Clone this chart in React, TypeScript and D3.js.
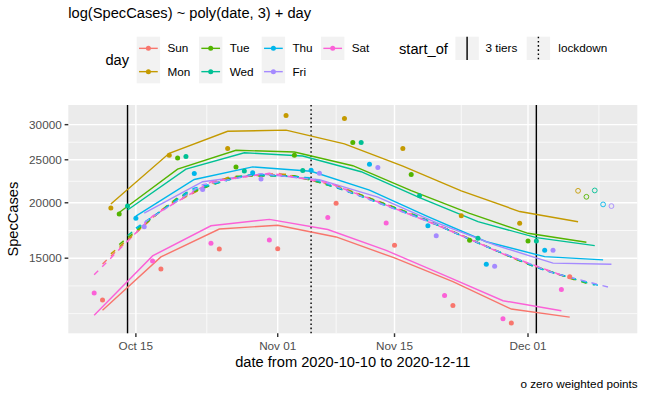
import React from 'react';
import * as d3 from 'd3';

// weekday groups, ggplot hue palette
const days = ['Sun', 'Mon', 'Tue', 'Wed', 'Thu', 'Fri', 'Sat'];
const dayColors = ['#F8766D', '#C49A00', '#53B400', '#00C094', '#00B6EB', '#A58AFF', '#FB61D7'];

const firstDate = '2020-10-10';
const zeroWeightFrom = '2020-12-07';

// observed SpecCases, one per day from 2020-10-10 to 2020-12-11
const specCases = [
  12520, 12070, 19460, 18860, 19660, 18450, 17660, 14790, 14180, 25600,
  25240, 25420, 23280, 21430, 16210, 15740, 26500, 24090, 23600, 23360,
  22640, 16490, 15760, 31480, 25600, 23650, 23690, 23320, 18540, 19940,
  30960, 27330, 27330, 24430, 24020, 18000, 16040, 26500, 23160, 20740,
  17750, 16860, 12360, 11740, 18700, 16460, 16640, 14540, 14390, 10960,
  10720, 17980, 16400, 16400, 15630, 15630, 12750, 13620, 21280, 20630,
  21320, 19830, 19660,
];

// fitted value per date (poly(date, 3) + day)
const fittedCases = [
  11150, 11450, 19880, 19010, 19260, 18670, 18960, 15180, 15100, 25860,
  23810, 23810, 22570, 22310, 17750, 17450, 28980, 26270, 25930, 24090,
  23200, 18350, 17800, 29160, 26030, 25500, 23560, 22550, 17410, 16750,
  27160, 24240, 23500, 21350, 20600, 15620, 15020, 24180, 21300, 20540,
  18620, 18050, 13720, 13290, 21280, 18930, 18130, 16340, 16070, 12030,
  11520, 19110, 17070, 16690, 15120, 14620, 11420, 11050, 18130, 16290,
  16010, 14870, 14540,
];

// trend without the day effect
const trendCases = [
  13760, 14560, 15340, 16110, 16880, 17540, 18050, 18670, 19260, 19910,
  20540, 21080, 21580, 21970, 22290, 22570, 22810, 22960, 23080, 23200,
  23260, 23320, 23320, 23200, 23020, 22900, 22760, 22490, 22200, 21860,
  21550, 21140, 20700, 20330, 20020, 19760, 19510, 19210, 18910, 18570,
  18190, 17870, 17520, 17230, 16920, 16570, 16230, 15940, 15660, 15340,
  15050, 14790, 14530, 14300, 14080, 13900, 13740, 13510, 13320, 13170,
  13040, 12940, 12860,
];

const yTicks = [15000, 20000, 25000, 30000];
const xTicks = ['2020-10-15', '2020-11-01', '2020-11-15', '2020-12-01'];
const xTickLabels = ['Oct 15', 'Nov 01', 'Nov 15', 'Dec 01'];

const eventNames = ['3 tiers', 'lockdown'];
const eventDates = [['2020-10-14', '2020-12-02'], ['2020-11-05']];

const font = 'Liberation Sans, Arial, Helvetica, sans-serif';
const panel = { left: 68.3, right: 637.3, top: 105, bottom: 333.3 };
const dashFor = ['none', '1.6 2.6'];

const parseDate = d3.utcParse('%Y-%m-%d');
const start = parseDate(firstDate) as Date;
const dates = specCases.map((_, i) => d3.utcDay.offset(start, i));
const zeroFrom = parseDate(zeroWeightFrom) as Date;

// ggplot-like 5% expansion
const xExt = d3.extent(dates) as [Date, Date];
const xPad = (+xExt[1] - +xExt[0]) * 0.05;
const x = d3.scaleUtc()
  .domain([new Date(+xExt[0] - xPad), new Date(+xExt[1] + xPad)])
  .range([panel.left, panel.right]);

const [lo, hi] = d3.extent([...specCases, ...fittedCases, ...trendCases]) as [number, number];
const lPad = (Math.log10(hi) - Math.log10(lo)) * 0.05;
const y = d3.scaleLog()
  .domain([lo / Math.pow(10, lPad), hi * Math.pow(10, lPad)])
  .range([panel.bottom, panel.top]);

// same rule as scales::regular_minor_breaks
function minorBreaks(b: number[], lim: number[]) {
  const bd = b[1] - b[0];
  const ext = b.slice();
  if (lim[0] < b[0]) ext.unshift(b[0] - bd);
  if (lim[1] > b[b.length - 1]) ext.push(b[b.length - 1] + bd);
  const out: number[] = [];
  for (let i = 0; i < ext.length - 1; i++) out.push((ext[i] + ext[i + 1]) / 2);
  ext.forEach(v => { if (!b.includes(v)) out.push(v); });
  return out.filter(v => v > lim[0] && v < lim[1]);
}

const xTickDates = xTicks.map(d => parseDate(d) as Date);
const xMinor = minorBreaks(xTickDates.map(d => +d), x.domain().map(d => +d)).map(v => new Date(v));
const yMinor = minorBreaks(yTicks.map(Math.log10), y.domain().map(Math.log10)).map(v => Math.pow(10, v));

const byDay = days.map((_, k) => d3.range(dates.length).filter(i => dates[i].getUTCDay() === k));

const fitLine = d3.line<number>().x(i => x(dates[i])).y(i => y(fittedCases[i]));
const trendLine = d3.line<number>().x(i => x(dates[i])).y(i => y(trendCases[i]));

// legend layout
const keyW = 23.4;
const keyH = 23.3;
const dayCols = [136.7, 199.0, 261.7, 321.0];
const keyRows = [36.7, 60.0];
const eventKeyX = [455.4, 526.7];
const eventTextX = [485.4, 558.3];

export default function App() {
  return (
    <svg width={645} height={398} style={{ position: 'absolute', left: 0, top: 0, background: '#fff' }} fontFamily={font}>
      <rect x={0} y={0} width={645} height={398} fill="#fff" />
      <text x={68.3} y={18} fontSize={14.67} fill="#000">log(SpecCases) ~ poly(date, 3) + day</text>

      {/* legend: day */}
      <text x={105.4} y={65.4} fontSize={14.67} fill="#000">day</text>
      {days.map((d, i) => {
        const kx = dayCols[Math.floor(i / 2)];
        const ky = keyRows[i % 2];
        return (
          <g key={d}>
            <rect x={kx} y={ky} width={keyW} height={keyH} fill="#F2F2F2" />
            <line x1={kx + keyW * 0.1} x2={kx + keyW * 0.9} y1={ky + keyH / 2} y2={ky + keyH / 2} stroke={dayColors[i]} strokeWidth={1.4} />
            <circle cx={kx + keyW / 2} cy={ky + keyH / 2} r={2.5} fill={dayColors[i]} />
            <text x={kx + keyW + 7.3} y={ky + keyH / 2 + 4.1} fontSize={11.73} fill="#000">{d}</text>
          </g>
        );
      })}

      {/* legend: start_of */}
      <text x={399} y={54} fontSize={14.67} fill="#000">start_of</text>
      {eventNames.map((n, i) => (
        <g key={n}>
          <rect x={eventKeyX[i]} y={keyRows[0]} width={keyW} height={keyH} fill="#F2F2F2" />
          <line x1={eventKeyX[i] + keyW / 2} x2={eventKeyX[i] + keyW / 2} y1={keyRows[0]} y2={keyRows[0] + keyH} stroke="#000" strokeWidth={1.42} strokeDasharray={dashFor[i]} />
          <text x={eventTextX[i]} y={keyRows[0] + keyH / 2 + 4.1} fontSize={11.73} fill="#000">{n}</text>
        </g>
      ))}

      {/* panel */}
      <rect x={panel.left} y={panel.top} width={panel.right - panel.left} height={panel.bottom - panel.top} fill="#EBEBEB" />
      {yMinor.map((v, i) => (
        <line key={'ym' + i} x1={panel.left} x2={panel.right} y1={y(v)} y2={y(v)} stroke="#fff" strokeWidth={0.71} />
      ))}
      {xMinor.map((d, i) => (
        <line key={'xm' + i} x1={x(d)} x2={x(d)} y1={panel.top} y2={panel.bottom} stroke="#fff" strokeWidth={0.71} />
      ))}
      {yTicks.map(v => (
        <line key={'yg' + v} x1={panel.left} x2={panel.right} y1={y(v)} y2={y(v)} stroke="#fff" strokeWidth={1.42} />
      ))}
      {xTickDates.map((d, i) => (
        <line key={'xg' + i} x1={x(d)} x2={x(d)} y1={panel.top} y2={panel.bottom} stroke="#fff" strokeWidth={1.42} />
      ))}

      {/* event lines */}
      {eventDates.map((ds, i) => ds.map(ds2 => {
        const xv = x(parseDate(ds2) as Date);
        return <line key={ds2} x1={xv} x2={xv} y1={panel.top} y2={panel.bottom} stroke="#000" strokeWidth={1.42} strokeDasharray={dashFor[i]} />;
      }))}

      {/* fitted lines per weekday */}
      {byDay.map((idx, k) => (
        <path key={'f' + k} d={fitLine(idx) || ''} fill="none" stroke={dayColors[k]} strokeWidth={1.4} />
      ))}
      {/* trend, dashed */}
      {byDay.map((idx, k) => (
        <path key={'t' + k} d={trendLine(idx) || ''} fill="none" stroke={dayColors[k]} strokeWidth={1.4} strokeDasharray="5.7 5.7" />
      ))}

      {/* points */}
      {specCases.map((v, i) => {
        const c = dayColors[dates[i].getUTCDay()];
        const open = +dates[i] >= +zeroFrom;
        return open
          ? <circle key={'p' + i} cx={x(dates[i])} cy={y(v)} r={2.4} fill="none" stroke={c} strokeWidth={0.9} />
          : <circle key={'p' + i} cx={x(dates[i])} cy={y(v)} r={2.5} fill={c} />;
      })}

      {/* y axis */}
      {yTicks.map(v => (
        <g key={'yt' + v}>
          <line x1={panel.left - 3.67} x2={panel.left} y1={y(v)} y2={y(v)} stroke="#333" strokeWidth={1.42} />
          <text x={panel.left - 6.6} y={y(v) + 4.1} fontSize={11.73} fill="#4D4D4D" textAnchor="end">{v}</text>
        </g>
      ))}
      {/* x axis */}
      {xTickDates.map((d, i) => (
        <g key={'xt' + i}>
          <line x1={x(d)} x2={x(d)} y1={panel.bottom} y2={panel.bottom + 3.67} stroke="#333" strokeWidth={1.42} />
          <text x={x(d)} y={350} fontSize={11.73} fill="#4D4D4D" textAnchor="middle">{xTickLabels[i]}</text>
        </g>
      ))}

      <text x={(panel.left + panel.right) / 2} y={367} fontSize={14.67} fill="#000" textAnchor="middle">date from 2020-10-10 to 2020-12-11</text>
      <text transform={`translate(17.5,${(panel.top + panel.bottom) / 2}) rotate(-90)`} fontSize={14.67} fill="#000" textAnchor="middle">SpecCases</text>
      <text x={637.7} y={387.5} fontSize={11.73} fill="#000" textAnchor="end">o zero weighted points</text>
    </svg>
  );
}
